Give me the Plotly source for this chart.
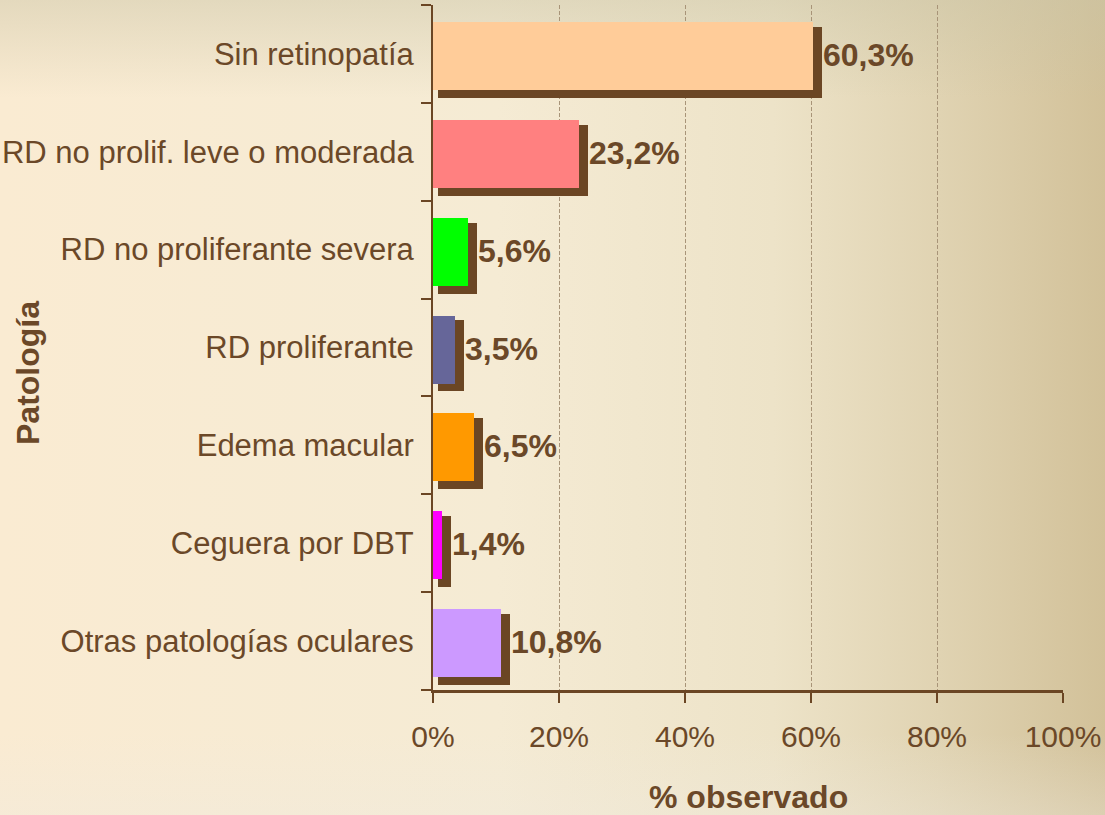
import base64
import plotly.graph_objects as go

categories = ["Sin retinopatía", "RD no prolif. leve o moderada", "RD no proliferante severa",
              "RD proliferante", "Edema macular", "Ceguera por DBT", "Otras patologías oculares"]
values = [60.3, 23.2, 5.6, 3.5, 6.5, 1.4, 10.8]
value_labels = ["60,3%", "23,2%", "5,6%", "3,5%", "6,5%", "1,4%", "10,8%"]
bar_colors = ["#FFCC99", "#FF8080", "#00FF00", "#666699", "#FF9900", "#FF00FF", "#CC99FF"]
x_ticks = [0, 20, 40, 60, 80, 100]
x_tick_labels = ["0%", "20%", "40%", "60%", "80%", "100%"]

BROWN = "#6B4624"
TEXT = "#6B4828"
FONT = "Liberation Sans, Arial, sans-serif"
W, H = 1105, 815

svg = f"""<svg xmlns='http://www.w3.org/2000/svg' width='{W}' height='{H}' preserveAspectRatio='none'>
<defs>
<linearGradient id='h' x1='0' y1='0' x2='1' y2='0'>
<stop offset='0' stop-color='#FAEBD2'/>
<stop offset='0.45' stop-color='#F5EBD4'/>
<stop offset='0.7' stop-color='#EDE3C8'/>
<stop offset='0.85' stop-color='#E0D3B2'/>
<stop offset='1' stop-color='#D2C199'/>
</linearGradient>
<linearGradient id='v' x1='0' y1='0' x2='0' y2='1'>
<stop offset='0' stop-color='#C9C3A4' stop-opacity='0.45'/>
<stop offset='0.12' stop-color='#C9C3A4' stop-opacity='0'/>
<stop offset='0.9' stop-color='#EFEADF' stop-opacity='0'/>
<stop offset='1' stop-color='#EFEADF' stop-opacity='0.35'/>
</linearGradient>
</defs>
<rect x='0' y='0' width='{W}' height='{H}' fill='url(#h)'/>
<rect x='0' y='0' width='{W}' height='{H}' fill='url(#v)'/>
</svg>"""
bg_uri = "data:image/svg+xml;base64," + base64.b64encode(svg.encode("utf-8")).decode("ascii")

# shadow geometry (in data units) relative to each bar
shadow_base = 0.8
shadow_extra = 1.43

fig = go.Figure()
fig.add_trace(go.Bar(
    y=categories, x=[v + shadow_extra - shadow_base for v in values], base=shadow_base,
    orientation="h", marker=dict(color=BROWN, line=dict(width=0)),
    width=0.725, offset=-0.449, hoverinfo="skip", showlegend=False,
))
fig.add_trace(go.Bar(
    y=categories, x=values, orientation="h",
    marker=dict(color=bar_colors, line=dict(width=0)),
    width=0.695, offset=-0.368, showlegend=False,
))

annotations = []
for c, v, lab in zip(categories, values, value_labels):
    annotations.append(dict(x=v, y=c, xref="x", yref="y", text=lab, showarrow=False,
                            xanchor="left", yanchor="middle", xshift=8, yshift=-1,
                            font=dict(family=FONT, size=32, color=TEXT, weight="bold")))
annotations.append(dict(x=0.5, y=1 - 797 / H, xref="x domain", yref="paper", text="% observado",
                        showarrow=False, xanchor="center", yanchor="middle",
                        font=dict(family=FONT, size=32, color=TEXT, weight="bold")))
annotations.append(dict(x=28 / W, y=1 - 373 / H, xref="paper", yref="paper", text="Patología",
                        showarrow=False, xanchor="center", yanchor="middle", textangle=-90,
                        font=dict(family=FONT, size=32, color=TEXT, weight="bold")))

fig.update_layout(
    width=W, height=H,
    margin=dict(l=0, r=0, t=0, b=0),
    paper_bgcolor="rgba(0,0,0,0)", plot_bgcolor="rgba(0,0,0,0)",
    barmode="overlay", bargap=0,
    showlegend=False,
    annotations=annotations,
    images=[dict(source=bg_uri, xref="paper", yref="paper", x=0, y=1, sizex=1, sizey=1,
                 xanchor="left", yanchor="top", sizing="stretch", layer="below")],
    xaxis=dict(
        domain=[433 / W, 1063 / W], range=[0, 100], tickmode="array",
        tickvals=x_ticks, ticktext=x_tick_labels,
        showgrid=True, gridcolor="#A89478", griddash="4px,2px", gridwidth=1,
        zeroline=False, showline=True, linecolor=BROWN, linewidth=3,
        ticks="outside", ticklen=10, tickwidth=2, tickcolor=BROWN,
        tickfont=dict(family=FONT, size=30, color=TEXT), ticklabelstandoff=8,
        automargin=False, fixedrange=True,
    ),
    yaxis=dict(
        domain=[1 - 690 / H, 1 - 5 / H], categoryorder="array",
        categoryarray=list(reversed(categories)), range=[-0.5, 6.5],
        showgrid=False, zeroline=False, showline=True, linecolor=BROWN, linewidth=2,
        ticks="outside", ticklen=10, tickwidth=2, tickcolor=BROWN, tickson="boundaries",
        tickfont=dict(family=FONT, size=31, color=TEXT), ticklabelstandoff=11,
        automargin=False, fixedrange=True,
    ),
)

fig.write_html("out.html", config={"displayModeBar": False},
               post_script="document.body.style.margin='0px';document.body.style.overflow='hidden';")
